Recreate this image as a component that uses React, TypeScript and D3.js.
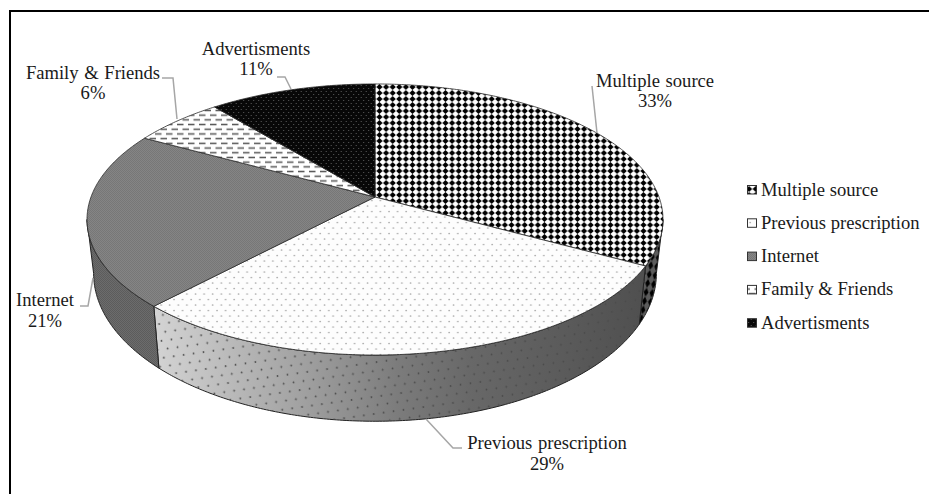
import React from "react";
import * as d3 from "d3";

// Share of respondents by source of information
const categories = ["Multiple source", "Previous prescription", "Internet", "Family & Friends", "Advertisments"];
const shares = [33, 29, 21, 6, 11];

// Label placement: name anchor, and the elbow leader running from label to rim
const labelLayout = [
  { x: 655, y: 87, gap: 19.5, leader: [[592, 86], [597, 133]] },
  { x: 547, y: 449, gap: 21, leader: [[462, 448], [453, 448], [426, 419]] },
  { x: 45, y: 306, gap: 21, leader: [[80, 306], [88, 306], [93, 278]] },
  { x: 93, y: 79, gap: 20, leader: [[162, 78], [173, 78], [177, 119]] },
  { x: 256, y: 55, gap: 20, leader: [[277, 77], [285, 77], [291, 89]] },
];

const WIDTH = 929;
const HEIGHT = 494;
const FONT = "'Liberation Serif', 'Times New Roman', serif";

// Perspective projection of the unit disc onto the page
const CX = 375;
const CY = 197;
const RX = 284;
const RY = 131.8;
const PERSPECTIVE = 0.166;
const DEPTH = 52;
const DEPTH_TILT = 0.09;
const BASE_SHRINK = 0.977;
const SILHOUETTE = Math.acos(-PERSPECTIVE);

type Pt = [number, number];

function topPoint(a: number): Pt {
  const u = Math.sin(a);
  const v = Math.cos(a);
  const k = 1 + PERSPECTIVE * v;
  return [CX + (RX * u) / k, CY - (RY * v) / k];
}

function basePoint(a: number): Pt {
  const [x, y] = topPoint(a);
  const dy = y - CY;
  return [CX + BASE_SHRINK * (x - CX), y + DEPTH + DEPTH_TILT * dy];
}

const curve = d3.line<Pt>();

function sweep(a0: number, a1: number, fn: (a: number) => Pt): Pt[] {
  const n = Math.max(2, Math.ceil(Math.abs(a1 - a0) / 0.01));
  const t = d3.scaleLinear().domain([0, n]).range([a0, a1]);
  return d3.range(n + 1).map((i) => fn(t(i)));
}

const arcs = d3
  .pie<number>()
  .sort(null)
  .startAngle(0)
  .endAngle(2 * Math.PI)(shares);

const topFill = d3
  .scaleOrdinal<string, string>()
  .domain(categories)
  .range(["url(#multi)", "url(#prev)", "url(#net)", "url(#family)", "url(#ads)"]);

const sideFill = d3
  .scaleOrdinal<string, string>()
  .domain(categories)
  .range(["url(#multiSide)", "url(#prevSide)", "url(#netSide)", "url(#netSide)", "url(#netSide)"]);

const Patterns = () => (
  <defs>
    <pattern id="multi" width={6.6} height={6} patternUnits="userSpaceOnUse">
      <rect width={6.6} height={6} fill="#fff" />
      <path d="M3.3 0 L6.4 3 L3.3 6 L0.2 3 Z" fill="#000" />
    </pattern>
    <pattern id="prev" width={8.6} height={11} patternUnits="userSpaceOnUse">
      <rect width={8.6} height={11} fill="#fdfdfd" />
      <circle cx={2} cy={2.5} r={0.85} fill="#a8a8a8" />
      <circle cx={6.3} cy={8} r={0.85} fill="#a8a8a8" />
    </pattern>
    <pattern id="net" width={2} height={2} patternUnits="userSpaceOnUse">
      <rect width={2} height={2} fill="#858585" />
      <rect width={1} height={1} fill="#777" />
      <rect x={1} y={1} width={1} height={1} fill="#777" />
    </pattern>
    <pattern id="family" width={11} height={9.4} patternUnits="userSpaceOnUse">
      <rect width={11} height={9.4} fill="#fff" />
      <rect x={1} y={1.6} width={6.5} height={1.5} fill="#555" />
      <rect x={6.5} y={6.3} width={4.5} height={1.5} fill="#555" />
      <rect x={0} y={6.3} width={2} height={1.5} fill="#555" />
    </pattern>
    <pattern id="ads" width={5} height={6} patternUnits="userSpaceOnUse">
      <rect width={5} height={6} fill="#080808" />
      <circle cx={1.2} cy={1.5} r={0.6} fill="#666" />
      <circle cx={3.7} cy={4.5} r={0.6} fill="#666" />
    </pattern>
    <linearGradient id="prevSide" gradientUnits="userSpaceOnUse" x1={154} x2={640} y1={0} y2={0}>
      <stop offset="0" stopColor="#d4d4d4" />
      <stop offset="0.3" stopColor="#a2a2a2" />
      <stop offset="0.5" stopColor="#7c7c7c" />
      <stop offset="0.65" stopColor="#686868" />
      <stop offset="1" stopColor="#505050" />
    </linearGradient>
    <pattern id="prevDots" width={10} height={17} patternUnits="userSpaceOnUse" patternTransform="rotate(-8)">
      <circle cx={2.5} cy={3} r={0.9} fill="#4a4a4a" />
      <circle cx={7.5} cy={11.5} r={0.9} fill="#4a4a4a" />
    </pattern>
    <pattern id="netSide" width={2} height={2} patternUnits="userSpaceOnUse">
      <rect width={2} height={2} fill="#6c6c6c" />
      <rect width={1} height={1} fill="#5c5c5c" />
      <rect x={1} y={1} width={1} height={1} fill="#5c5c5c" />
    </pattern>
    <pattern id="multiSide" width={6} height={9} patternUnits="userSpaceOnUse" patternTransform="rotate(10)">
      <rect width={6} height={9} fill="#5c5c5c" />
      <path d="M3 0 L5.4 4.5 L3 9 L0.6 4.5 Z" fill="#000" />
    </pattern>
  </defs>
);

export default function App() {
  const leaderLine = d3.line<number[]>();
  return (
    <svg
      width={WIDTH}
      height={HEIGHT}
      viewBox={`0 0 ${WIDTH} ${HEIGHT}`}
      style={{ position: "absolute", left: 0, top: 0, background: "#fff" }}
    >
      <Patterns />
      {/* frame: only the top and left rules fall inside the page */}
      <line x1={10} y1={11} x2={WIDTH} y2={11} stroke="#000" strokeWidth={2} />
      <line x1={10} y1={10} x2={10} y2={HEIGHT} stroke="#000" strokeWidth={2} />

      {/* outer wall of the disc, only the part facing the viewer */}
      {arcs.map((arc, i) => {
        const a0 = Math.max(arc.startAngle, SILHOUETTE);
        const a1 = Math.min(arc.endAngle, 2 * Math.PI - SILHOUETTE);
        if (a1 <= a0) return null;
        const outline = [...sweep(a0, a1, topPoint), ...sweep(a1, a0, basePoint)];
        const d = `${curve(outline)}Z`;
        const name = categories[i];
        return (
          <g key={name}>
            <path d={d} fill={sideFill(name)} stroke="#222" strokeWidth={1} strokeLinejoin="round" />
            {name === "Previous prescription" && <path d={d} fill="url(#prevDots)" />}
          </g>
        );
      })}

      {/* top face */}
      {arcs.map((arc, i) => {
        const rim = sweep(arc.startAngle, arc.endAngle, topPoint);
        return (
          <path
            key={categories[i]}
            d={`${curve([[CX, CY], ...rim])}Z`}
            fill={topFill(categories[i])}
            stroke="#2a2a2a"
            strokeWidth={0.8}
            strokeLinejoin="round"
          />
        );
      })}

      {/* callouts */}
      {categories.map((name, i) => {
        const l = labelLayout[i];
        return (
          <g key={name} fontFamily={FONT} fontSize={18.6} fill="#1a1a1a" textAnchor="middle">
            <path d={leaderLine(l.leader) ?? ""} fill="none" stroke="#a6a6a6" strokeWidth={1.5} />
            <text x={l.x} y={l.y} wordSpacing={1}>{name}</text>
            <text x={l.x} y={l.y + l.gap}>{shares[i]}%</text>
          </g>
        );
      })}

      {/* legend */}
      {categories.map((name, i) => {
        const y = 190 + i * 33.3;
        return (
          <g key={name}>
            <rect x={747.5} y={y - 4.5} width={9} height={8.5} fill={topFill(name)} stroke="#333" strokeWidth={1} />
            <text x={761} y={y + 5.5} fontFamily={FONT} fontSize={18.6} fill="#1a1a1a">{name}</text>
          </g>
        );
      })}
    </svg>
  );
}
